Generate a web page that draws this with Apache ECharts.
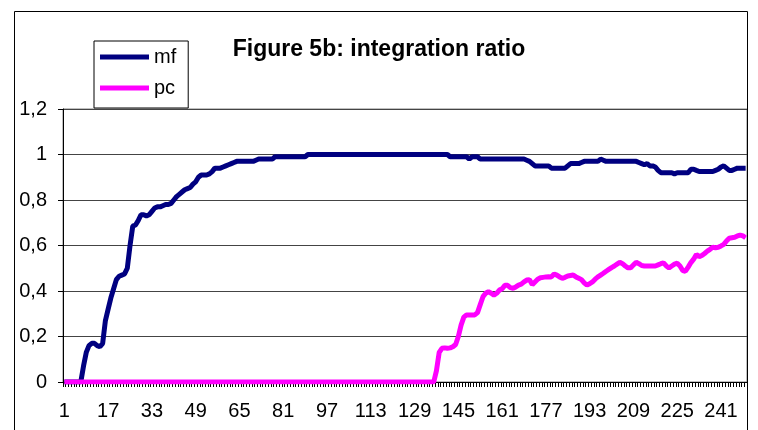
<!DOCTYPE html>
<html>
<head>
<meta charset="utf-8">
<script src="https://cdn.jsdelivr.net/npm/echarts@6/dist/echarts.min.js"></script>
<style>
  html, body { margin: 0; padding: 0; background: #fff; }
  #chart { width: 758px; height: 430px; }
</style>
</head>
<body>
<div id="chart"></div>
<script>
// x categories 1..250, labelled every 16th
const categories = Array.from({length: 250}, (_, i) => String(i + 1));
const yTickLabels = ['0', '0,2', '0,4', '0,6', '0,8', '1', '1,2'];

const mf = [
  0, 0, 0, 0, 0, 0, 0, 0.07, 0.13, 0.16,
  0.17, 0.17, 0.16, 0.155, 0.17, 0.27, 0.32, 0.37, 0.41, 0.45,
  0.465, 0.47, 0.475, 0.50, 0.60, 0.685, 0.69, 0.71, 0.735, 0.735,
  0.73, 0.735, 0.75, 0.765, 0.77, 0.77, 0.775, 0.78, 0.78, 0.785,
  0.80, 0.815, 0.825, 0.835, 0.845, 0.85, 0.855, 0.87, 0.88, 0.90,
  0.91, 0.91, 0.91, 0.915, 0.925, 0.94, 0.94, 0.94, 0.945, 0.95,
  0.955, 0.96, 0.965, 0.97, 0.97, 0.97, 0.97, 0.97, 0.97, 0.97,
  0.975, 0.98, 0.98, 0.98, 0.98, 0.98, 0.98, 0.99, 0.99, 0.99,
  0.99, 0.99, 0.99, 0.99, 0.99, 0.99, 0.99, 0.99, 0.99, 1,
  1, 1, 1, 1, 1, 1, 1, 1, 1, 1,
  1, 1, 1, 1, 1, 1, 1, 1, 1, 1,
  1, 1, 1, 1, 1, 1, 1, 1, 1, 1,
  1, 1, 1, 1, 1, 1, 1, 1, 1, 1,
  1, 1, 1, 1, 1, 1, 1, 1, 1, 1,
  1, 0.99, 0.99, 0.99, 0.99, 0.99, 0.99, 0.99, 0.98, 0.99,
  0.99, 0.99, 0.98, 0.98, 0.98, 0.98, 0.98, 0.98, 0.98, 0.98,
  0.98, 0.98, 0.98, 0.98, 0.98, 0.98, 0.98, 0.98, 0.98, 0.975,
  0.97, 0.96, 0.95, 0.95, 0.95, 0.95, 0.95, 0.95, 0.94, 0.94,
  0.94, 0.94, 0.94, 0.94, 0.95, 0.96, 0.96, 0.96, 0.96, 0.965,
  0.97, 0.97, 0.97, 0.97, 0.97, 0.97, 0.98, 0.975, 0.97, 0.97,
  0.97, 0.97, 0.97, 0.97, 0.97, 0.97, 0.97, 0.97, 0.97, 0.97,
  0.965, 0.96, 0.955, 0.96, 0.95, 0.95, 0.945, 0.93, 0.92, 0.92,
  0.92, 0.92, 0.92, 0.915, 0.92, 0.92, 0.92, 0.92, 0.92, 0.935,
  0.935, 0.93, 0.925, 0.925, 0.925, 0.925, 0.925, 0.925, 0.93, 0.935,
  0.945, 0.95, 0.94, 0.93, 0.93, 0.935, 0.94, 0.94, 0.94, 0.94
];

const pc = [
  0, 0, 0, 0, 0, 0, 0, 0, 0, 0,
  0, 0, 0, 0, 0, 0, 0, 0, 0, 0,
  0, 0, 0, 0, 0, 0, 0, 0, 0, 0,
  0, 0, 0, 0, 0, 0, 0, 0, 0, 0,
  0, 0, 0, 0, 0, 0, 0, 0, 0, 0,
  0, 0, 0, 0, 0, 0, 0, 0, 0, 0,
  0, 0, 0, 0, 0, 0, 0, 0, 0, 0,
  0, 0, 0, 0, 0, 0, 0, 0, 0, 0,
  0, 0, 0, 0, 0, 0, 0, 0, 0, 0,
  0, 0, 0, 0, 0, 0, 0, 0, 0, 0,
  0, 0, 0, 0, 0, 0, 0, 0, 0, 0,
  0, 0, 0, 0, 0, 0, 0, 0, 0, 0,
  0, 0, 0, 0, 0, 0, 0, 0, 0, 0,
  0, 0, 0, 0, 0, 0, 0.05, 0.13, 0.148, 0.15,
  0.148, 0.15, 0.155, 0.165, 0.20, 0.25, 0.285, 0.295, 0.295, 0.295,
  0.295, 0.305, 0.34, 0.375, 0.39, 0.397, 0.39, 0.382, 0.39, 0.404,
  0.41, 0.425, 0.425, 0.415, 0.412, 0.418, 0.426, 0.43, 0.44, 0.448,
  0.45, 0.428, 0.44, 0.452, 0.458, 0.46, 0.462, 0.463, 0.462, 0.475,
  0.47, 0.462, 0.456, 0.46, 0.466, 0.468, 0.47, 0.462, 0.456, 0.45,
  0.436, 0.426, 0.432, 0.44, 0.452, 0.462, 0.47, 0.478, 0.487, 0.495,
  0.503, 0.51, 0.518, 0.526, 0.52, 0.51, 0.502, 0.502, 0.515, 0.526,
  0.52, 0.512, 0.51, 0.51, 0.51, 0.51, 0.51, 0.515, 0.52, 0.524,
  0.51, 0.502, 0.51, 0.518, 0.522, 0.51, 0.49, 0.487, 0.505, 0.525,
  0.54, 0.561, 0.551, 0.556, 0.565, 0.575, 0.583, 0.592, 0.59, 0.592,
  0.598, 0.605, 0.62, 0.632, 0.634, 0.636, 0.642, 0.646, 0.642, 0.634
];

const font = 'Liberation Sans, Arial, sans-serif';

const chart = echarts.init(document.getElementById('chart'));
chart.setOption({
  animation: false,
  backgroundColor: '#fff',
  title: {
    text: 'Figure 5b: integration ratio',
    left: 'center',
    top: 38,
    padding: 0,
    textStyle: {fontFamily: font, fontSize: 23, fontWeight: 'bold', color: '#000'}
  },
  legend: {
    orient: 'vertical',
    left: 94,
    top: 41,
    padding: [5, 12, 9, 6],
    itemGap: 9,
    itemWidth: 49,
    itemHeight: 5,
    icon: 'rect',
    backgroundColor: '#fff',
    borderColor: '#000',
    borderWidth: 1,
    selectedMode: false,
    data: ['mf', 'pc'],
    textStyle: {fontFamily: font, fontSize: 20, lineHeight: 22, color: '#000'}
  },
  grid: {
    left: 63,
    right: 11,
    top: 109,
    bottom: 48,
    show: true,
    borderColor: '#808080',
    borderWidth: 1
  },
  xAxis: {
    type: 'category',
    data: categories,
    boundaryGap: true,
    axisLine: {lineStyle: {color: '#000', width: 1}},
    axisTick: {show: true, interval: 0, length: 5, lineStyle: {color: '#000'}},
    axisLabel: {interval: 15, margin: 19, fontFamily: font, fontSize: 20, color: '#000'},
    splitLine: {show: false}
  },
  yAxis: {
    type: 'value',
    min: 0,
    max: 1.2,
    interval: 0.2,
    axisLine: {show: true, lineStyle: {color: '#000', width: 1}},
    axisTick: {show: true, length: 5, lineStyle: {color: '#000'}},
    axisLabel: {
      margin: 16,
      fontFamily: font,
      fontSize: 20,
      color: '#000',
      formatter: v => yTickLabels[Math.round(v / 0.2)]
    },
    splitLine: {lineStyle: {color: '#444', width: 1}}
  },
  graphic: [
    {
      type: 'rect',
      shape: {x: 14.5, y: 11.5, width: 733, height: 440},
      style: {fill: 'none', stroke: '#000', lineWidth: 1},
      silent: true,
      z: 0
    }
  ],
  series: [
    {
      name: 'mf',
      type: 'line',
      data: mf,
      showSymbol: false,
      color: '#000080',
      lineStyle: {color: '#000080', width: 5}
    },
    {
      name: 'pc',
      type: 'line',
      data: pc,
      showSymbol: false,
      color: '#FF00FF',
      lineStyle: {color: '#FF00FF', width: 5}
    }
  ]
});
</script>
</body>
</html>
